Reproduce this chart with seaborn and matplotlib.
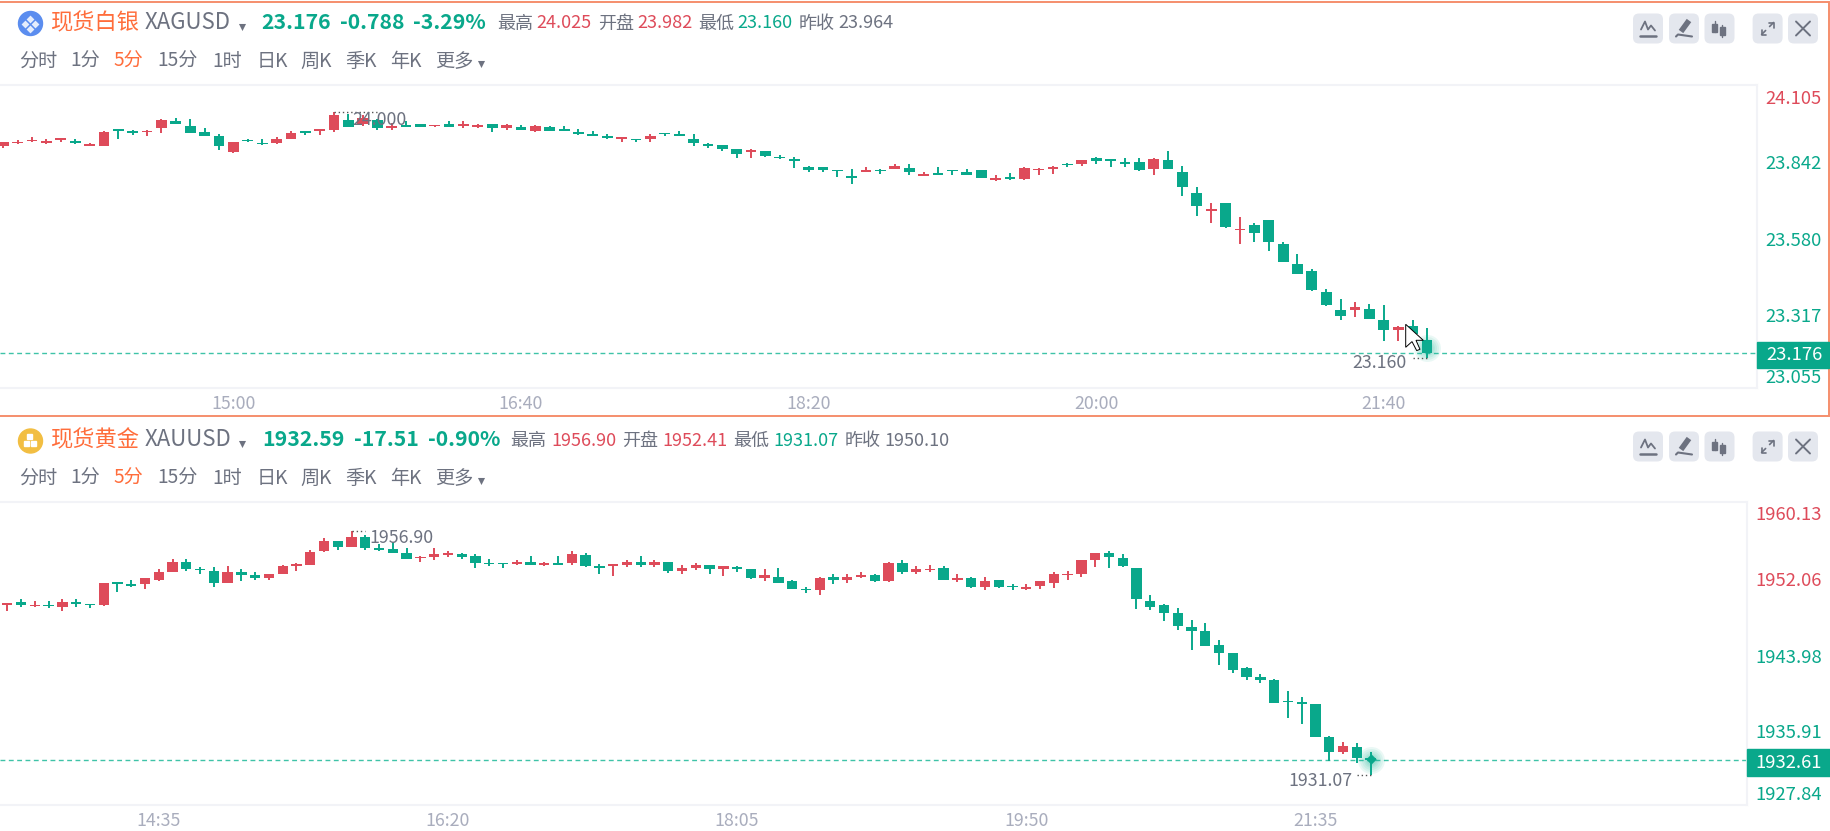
import numpy as np
import pandas as pd
import matplotlib
matplotlib.use("Agg")
import matplotlib.pyplot as plt
from matplotlib.patches import Rectangle, FancyBboxPatch, Circle, Polygon
import seaborn as sns

# XAGUSD 5 minute candles
silver_open = [23.895, 23.903, 23.910, 23.903, 23.915, 23.912, 23.895, 23.894, 23.949, 23.945,
               23.941, 23.957, 23.980, 23.964, 23.943, 23.927, 23.872, 23.915, 23.902, 23.903,
               23.919, 23.943, 23.946, 23.949, 23.984, 23.969, 23.984, 23.956, 23.964, 23.969,
               23.962, 23.970, 23.964, 23.961, 23.969, 23.956, 23.960, 23.945, 23.958, 23.949,
               23.943, 23.934, 23.928, 23.919, 23.917, 23.918, 23.938, 23.933, 23.918, 23.902,
               23.897, 23.882, 23.874, 23.876, 23.855, 23.845, 23.820, 23.820, 23.810, 23.788,
               23.805, 23.810, 23.815, 23.819, 23.790, 23.797, 23.810, 23.804, 23.810, 23.777,
               23.788, 23.778, 23.810, 23.815, 23.831, 23.830, 23.851, 23.850, 23.840, 23.840,
               23.815, 23.845, 23.804, 23.731, 23.670, 23.695, 23.602, 23.621, 23.638, 23.555,
               23.486, 23.461, 23.388, 23.326, 23.327, 23.331, 23.290, 23.255, 23.270, 23.222]
silver_high = [23.907, 23.915, 23.924, 23.919, 23.919, 23.919, 23.903, 23.946, 23.949, 23.950,
               23.950, 23.986, 23.990, 23.986, 23.955, 23.935, 23.907, 23.919, 23.918, 23.924,
               23.946, 23.945, 23.949, 24.010, 24.003, 24.001, 23.987, 23.972, 23.982, 23.969,
               23.964, 23.982, 23.982, 23.971, 23.970, 23.969, 23.967, 23.967, 23.964, 23.964,
               23.954, 23.945, 23.934, 23.924, 23.918, 23.934, 23.939, 23.945, 23.934, 23.903,
               23.897, 23.882, 23.882, 23.876, 23.863, 23.855, 23.825, 23.820, 23.810, 23.814,
               23.820, 23.814, 23.830, 23.830, 23.804, 23.820, 23.810, 23.814, 23.810, 23.793,
               23.799, 23.820, 23.819, 23.825, 23.836, 23.845, 23.856, 23.850, 23.851, 23.851,
               23.851, 23.877, 23.825, 23.752, 23.695, 23.696, 23.648, 23.626, 23.638, 23.560,
               23.519, 23.467, 23.399, 23.363, 23.353, 23.347, 23.342, 23.270, 23.290, 23.264]
silver_low = [23.888, 23.902, 23.909, 23.902, 23.909, 23.902, 23.894, 23.893, 23.918, 23.932,
              23.930, 23.939, 23.970, 23.939, 23.929, 23.881, 23.871, 23.909, 23.897, 23.902,
              23.918, 23.932, 23.932, 23.943, 23.960, 23.964, 23.949, 23.950, 23.960, 23.960,
              23.961, 23.960, 23.955, 23.955, 23.943, 23.950, 23.949, 23.943, 23.945, 23.945,
              23.933, 23.928, 23.918, 23.909, 23.909, 23.909, 23.928, 23.928, 23.893, 23.888,
              23.878, 23.851, 23.851, 23.856, 23.850, 23.819, 23.804, 23.804, 23.788, 23.762,
              23.804, 23.798, 23.814, 23.793, 23.789, 23.793, 23.793, 23.793, 23.783, 23.774,
              23.777, 23.777, 23.793, 23.798, 23.821, 23.825, 23.830, 23.820, 23.820, 23.808,
              23.793, 23.814, 23.722, 23.653, 23.628, 23.611, 23.555, 23.560, 23.529, 23.492,
              23.451, 23.393, 23.341, 23.290, 23.301, 23.295, 23.218, 23.218, 23.243, 23.160]
silver_close = [23.907, 23.908, 23.913, 23.912, 23.918, 23.904, 23.897, 23.943, 23.946, 23.940,
                23.945, 23.985, 23.971, 23.940, 23.930, 23.895, 23.907, 23.910, 23.900, 23.918,
                23.939, 23.940, 23.948, 24.001, 23.961, 23.990, 23.955, 23.964, 23.961, 23.961,
                23.964, 23.961, 23.970, 23.967, 23.955, 23.965, 23.950, 23.963, 23.946, 23.946,
                23.934, 23.930, 23.923, 23.923, 23.913, 23.928, 23.934, 23.930, 23.904, 23.893,
                23.882, 23.867, 23.878, 23.860, 23.851, 23.842, 23.810, 23.810, 23.806, 23.784,
                23.808, 23.806, 23.825, 23.805, 23.798, 23.795, 23.806, 23.795, 23.784, 23.782,
                23.778, 23.819, 23.814, 23.820, 23.827, 23.845, 23.841, 23.842, 23.830, 23.810,
                23.850, 23.815, 23.753, 23.686, 23.675, 23.612, 23.606, 23.591, 23.561, 23.493,
                23.452, 23.394, 23.342, 23.306, 23.336, 23.296, 23.255, 23.268, 23.244, 23.176]

# XAUUSD 5 minute candles
gold_open = [1949.16, 1949.48, 1949.02, 1949.12, 1948.98, 1949.44, 1949.23, 1949.12, 1951.50, 1951.32,
             1951.40, 1951.86, 1952.67, 1953.74, 1952.96, 1952.78, 1951.54, 1952.64, 1952.32, 1952.00,
             1952.50, 1953.31, 1953.42, 1954.87, 1955.98, 1955.37, 1956.40, 1955.16, 1955.16, 1954.70,
             1954.13, 1954.24, 1954.52, 1954.56, 1954.38, 1953.60, 1953.59, 1953.56, 1953.73, 1953.45,
             1953.56, 1953.59, 1954.52, 1953.24, 1953.31, 1953.41, 1953.73, 1953.41, 1953.73, 1952.78,
             1953.09, 1953.41, 1952.95, 1953.09, 1952.95, 1951.99, 1952.14, 1951.67, 1950.86, 1950.72,
             1952.14, 1951.82, 1952.14, 1952.31, 1951.67, 1953.59, 1952.63, 1952.85, 1953.09, 1951.85,
             1951.99, 1951.04, 1951.82, 1951.22, 1950.90, 1951.22, 1951.50, 1952.35, 1952.46, 1953.91,
             1954.66, 1954.20, 1953.10, 1949.58, 1949.12, 1948.30, 1946.85, 1946.39, 1944.93, 1944.01,
             1942.41, 1941.45, 1941.13, 1938.89, 1938.72, 1938.57, 1935.06, 1933.46, 1934.06, 1932.82]
gold_high = [1949.41, 1949.76, 1949.58, 1949.55, 1949.76, 1949.76, 1949.23, 1951.50, 1951.64, 1951.82,
             1952.00, 1952.96, 1954.06, 1954.06, 1953.24, 1953.24, 1953.28, 1952.96, 1952.64, 1952.50,
             1953.42, 1953.60, 1955.02, 1956.30, 1955.98, 1957.00, 1956.62, 1955.62, 1955.90, 1955.19,
             1954.38, 1955.19, 1954.87, 1954.70, 1954.56, 1954.06, 1953.66, 1953.91, 1954.37, 1953.70,
             1954.37, 1954.87, 1954.69, 1953.56, 1953.41, 1953.91, 1954.37, 1953.91, 1953.73, 1953.41,
             1953.59, 1953.41, 1953.27, 1953.27, 1952.95, 1952.95, 1953.09, 1951.82, 1951.04, 1952.14,
             1952.46, 1952.46, 1952.63, 1952.46, 1953.73, 1953.91, 1953.27, 1953.41, 1953.27, 1952.46,
             1952.14, 1952.10, 1951.82, 1951.43, 1951.39, 1951.68, 1952.64, 1952.81, 1953.91, 1954.66,
             1954.91, 1954.55, 1953.10, 1950.22, 1949.26, 1948.80, 1947.52, 1947.20, 1945.43, 1944.01,
             1942.59, 1941.77, 1941.27, 1939.99, 1939.36, 1938.57, 1935.20, 1934.56, 1934.42, 1933.46]
gold_low = [1948.48, 1948.98, 1948.98, 1948.80, 1948.48, 1948.98, 1948.80, 1949.09, 1950.58, 1951.04,
            1950.90, 1951.68, 1952.64, 1952.82, 1952.50, 1951.04, 1951.50, 1951.68, 1951.86, 1951.86,
            1952.46, 1952.82, 1953.38, 1954.84, 1955.02, 1955.34, 1955.02, 1954.87, 1954.70, 1954.06,
            1953.77, 1953.92, 1954.24, 1954.09, 1953.10, 1953.28, 1953.13, 1953.41, 1953.38, 1953.27,
            1953.41, 1953.41, 1953.24, 1952.46, 1952.28, 1953.24, 1953.24, 1953.24, 1952.60, 1952.46,
            1952.92, 1952.46, 1952.28, 1952.63, 1951.96, 1951.67, 1951.46, 1950.86, 1950.40, 1950.25,
            1951.35, 1951.50, 1951.99, 1951.64, 1951.64, 1952.46, 1952.46, 1952.63, 1951.78, 1951.64,
            1951.00, 1950.72, 1951.00, 1950.72, 1950.72, 1950.86, 1951.00, 1951.82, 1952.14, 1953.24,
            1953.10, 1953.24, 1948.76, 1948.62, 1947.49, 1946.53, 1944.33, 1944.79, 1942.73, 1941.91,
            1941.13, 1940.81, 1938.72, 1937.15, 1936.51, 1935.06, 1932.54, 1933.32, 1932.36, 1931.07]
gold_close = [1949.26, 1949.16, 1949.12, 1949.02, 1949.44, 1949.30, 1949.12, 1951.50, 1951.40, 1951.22,
              1952.00, 1952.64, 1953.74, 1952.96, 1952.85, 1951.54, 1952.64, 1952.32, 1952.00, 1952.46,
              1953.28, 1953.42, 1954.84, 1955.98, 1955.37, 1956.44, 1955.19, 1955.05, 1954.73, 1954.09,
              1954.24, 1954.56, 1954.70, 1954.27, 1953.60, 1953.49, 1953.49, 1953.73, 1953.41, 1953.59,
              1953.45, 1954.55, 1953.27, 1953.13, 1953.41, 1953.73, 1953.41, 1953.73, 1952.78, 1953.09,
              1953.41, 1952.95, 1953.27, 1952.99, 1951.99, 1952.31, 1951.50, 1950.89, 1950.75, 1951.99,
              1951.82, 1952.14, 1952.31, 1951.67, 1953.59, 1952.63, 1952.95, 1952.95, 1951.82, 1951.99,
              1951.04, 1951.68, 1951.04, 1951.07, 1951.04, 1951.68, 1952.46, 1952.49, 1953.91, 1954.66,
              1954.27, 1953.27, 1949.76, 1948.94, 1948.30, 1946.88, 1946.42, 1944.82, 1944.01, 1942.27,
              1941.49, 1941.13, 1938.75, 1938.79, 1938.61, 1935.09, 1933.50, 1934.10, 1932.86, 1932.61]

silver_time_pos = [16, 36, 56, 76, 96]
silver_time_labels = ['15:00', '16:40', '18:20', '20:00', '21:40']
gold_time_pos = [11, 32, 53, 74, 95]
gold_time_labels = ['14:35', '16:20', '18:05', '19:50', '21:35']

silver_levels = [24.105, 23.842, 23.580, 23.317, 23.055]
silver_level_labels = ['24.105', '23.842', '23.580', '23.317', '23.055']
gold_levels = [1960.13, 1952.06, 1943.98, 1935.91, 1927.84]
gold_level_labels = ['1960.13', '1952.06', '1943.98', '1935.91', '1927.84']
silver_last = 23.176
gold_last = 1932.61

W, H = 1831, 831
GREEN = '#09A88B'
RED = '#DE4B5A'
ORANGE = '#FF6D3B'
GRAY = '#6D7280'
TICK_GRAY = '#A9ADBD'
BAND = '#F2F3F7'
BUTTON = '#E4E7EE'

sns.set_theme(style='white')
plt.rcParams['font.family'] = ['Noto Sans CJK SC', 'DejaVu Sans']

fig = plt.figure(figsize=(W / 100, H / 100), dpi=100, facecolor='white')


def draw_candles(box, step, first_x, opens, highs, lows, closes, levels, level_labels,
                 level_offsets, red_levels, times, time_labels, last_price):
    left, top, right, bottom = box
    ax = fig.add_axes([left / W, 1 - bottom / H, (right - left) / W, (bottom - top) / H])
    per_px = (levels[0] - levels[-1]) / (bottom - top)
    df = pd.DataFrame({'idx': range(len(opens)), 'open': opens, 'high': highs,
                       'low': lows, 'close': closes})
    # a doji still shows as a bar about one pixel tall
    df['body'] = (df['close'] - df['open']).abs().clip(lower=per_px * 1.5)
    df['base'] = df[['open', 'close']].min(axis=1)
    up = df[df['close'] >= df['open']]
    down = df[df['close'] < df['open']]
    for part, col in ((up, RED), (down, GREEN)):
        ax.vlines(part['idx'], part['low'], part['high'], color=col, linewidth=1.4, zorder=2)
        sns.barplot(data=part, x='idx', y='body', native_scale=True, color=col, saturation=1,
                    errorbar=None, width=0.75, bottom=part['base'].values, linewidth=0,
                    zorder=3, ax=ax)
    ax.set_xlim(-(first_x - left) / step, (right - first_x) / step)
    ax.set_ylim(levels[-1], levels[0])
    ax.set_xlabel('')
    ax.set_ylabel('')
    ax.set_yticks([])
    ax.set_xticks(times, time_labels)
    ax.tick_params(axis='x', length=0, pad=5, labelsize=12.8, labelcolor=TICK_GRAY)
    ax.spines['left'].set_visible(False)
    for name in ('top', 'bottom', 'right'):
        ax.spines[name].set_color(BAND)
        ax.spines[name].set_linewidth(1.5)
    ax.axhline(last_price, color='#3FC3A8', linewidth=1, dashes=(3.5, 2.5), zorder=1)
    for value, label, off, is_red in zip(levels, level_labels, level_offsets, red_levels):
        overlay_y = top + (levels[0] - value) * (bottom - top) / (levels[0] - levels[-1]) + off
        overlay.text(1822, overlay_y, label, ha='right', va='center', fontsize=13.3,
                     color=RED if is_red else GREEN)
    return ax


def header(y1, y2, name, code, icon_color, quote, stats):
    overlay.add_patch(Circle((30.5, y1), 12, color=icon_color, zorder=2))
    overlay.text(50, y1 - 1, name, color=ORANGE, fontsize=16, va='center')
    overlay.text(145, y1 - 1, code, color=GRAY, fontsize=16, va='center')
    overlay.scatter([242], [y1 + 3], marker='v', s=26, color=GRAY, linewidths=0)
    for x, s in quote:
        overlay.text(x, y1 - 1, s, color=GREEN, fontsize=15.3, va='center', weight='bold')
    for x, s, col in stats:
        overlay.text(x, y1, s, color=col, fontsize=13, va='center')
    periods = [(19.4, '分时'), (70.5, '1分'), (113.3, '5分'), (157.4, '15分'), (212, '1时'),
               (256.6, '日K'), (300, '周K'), (345, '季K'), (390.5, '年K'), (435, '更多')]
    for x, s in periods:
        overlay.text(x, y2, s, color=ORANGE if s == '5分' else GRAY, fontsize=13.8, va='center')
    overlay.scatter([481], [y2 + 2], marker='v', s=26, color=GRAY, linewidths=0)


def buttons(y0):
    for x0 in (1633, 1669, 1704.5, 1752.6, 1788):
        overlay.add_patch(FancyBboxPatch((x0 + 4, y0 + 4), 22, 22, boxstyle='round,pad=4,rounding_size=6',
                                         facecolor=BUTTON, edgecolor='none'))
    cy = y0 + 15
    cx = 1648
    overlay.plot([cx - 7, cx - 3, cx, cx + 3, cx + 7], [cy + 1, cy - 7, cy + 1, cy - 3, cy + 2],
                 color=GRAY, lw=1.3)
    overlay.plot([cx - 8, cx + 8], [cy + 7, cy + 7], color=GRAY, lw=1.8)
    cx = 1684
    overlay.plot([cx - 3, cx + 5], [cy + 3, cy - 8], color=GRAY, lw=4, solid_capstyle='butt')
    overlay.plot([cx - 8, cx - 6, cx + 8], [cy + 8, cy + 6, cy + 8], color=GRAY, lw=1.5)
    cx = 1719.5
    overlay.plot([cx - 4, cx - 4], [cy - 8, cy + 3], color=GRAY, lw=1)
    overlay.plot([cx + 3, cx + 3], [cy - 4, cy + 8], color=GRAY, lw=1)
    overlay.add_patch(Rectangle((cx - 7, cy - 5), 5, 8, color=GRAY))
    overlay.add_patch(Rectangle((cx + 1, cy - 2), 5, 8, color=GRAY))
    cx = 1767.6
    overlay.plot([cx - 6, cx - 2], [cy + 6, cy + 2], color=GRAY, lw=1.2)
    overlay.plot([cx + 2, cx + 6], [cy - 2, cy - 6], color=GRAY, lw=1.2)
    overlay.plot([cx - 6, cx - 6, cx - 2], [cy + 1, cy + 6, cy + 6], color=GRAY, lw=1.2)
    overlay.plot([cx + 1, cx + 6, cx + 6], [cy - 6, cy - 6, cy - 1], color=GRAY, lw=1.2)
    cx = 1803
    overlay.plot([cx - 7, cx + 7], [cy - 7, cy + 7], color=GRAY, lw=1.4)
    overlay.plot([cx - 7, cx + 7], [cy + 7, cy - 7], color=GRAY, lw=1.4)


def glow(ax, x, y, strength=0.09):
    for d in (27, 23, 19, 15, 12, 9):
        ax.scatter([x], [y], s=(d * 0.72) ** 2, color='#1BB79B', alpha=strength, linewidths=0, zorder=4)


overlay = fig.add_axes([0, 0, 1, 1], zorder=5)
overlay.set_xlim(0, W)
overlay.set_ylim(H, 0)
overlay.axis('off')

silver_ax = draw_candles((0, 85, 1757, 388.2), 14.38, 3.3, silver_open, silver_high, silver_low,
                         silver_close, silver_levels, silver_level_labels, [14, 3, 4, 4, -10],
                         [True, False, False, False, False], silver_time_pos, silver_time_labels,
                         silver_last)
gold_ax = draw_candles((0, 502, 1747, 805), 13.77, 7.3, gold_open, gold_high, gold_low, gold_close,
                       gold_levels, gold_level_labels, [13, 3.5, 4, 4, -10],
                       [True, True, False, False, False], gold_time_pos, gold_time_labels, gold_last)

# last candle glow
glow(silver_ax, 99, 23.194)
glow(gold_ax, 99, 1932.61)
gold_ax.scatter([99], [1932.7], marker='D', s=28, color=GREEN, linewidths=0, zorder=5)

# high / low marks
silver_ax.plot([23, 26], [24.010, 24.010], color='#555', ls=(0, (1, 2)), lw=1, zorder=5)
silver_ax.text(24.3, 23.984, '24.000', color=GRAY, fontsize=12.8, va='center', zorder=6)
silver_ax.plot([98, 99], [23.160, 23.160], color='#555', ls=(0, (1, 2)), lw=1, zorder=5)
silver_ax.text(97.6, 23.143, '23.160', color=GRAY, fontsize=12.8, va='center', ha='right', zorder=6)
gold_ax.plot([25, 26], [1957.0, 1957.0], color='#555', ls=(0, (1, 2)), lw=1, zorder=5)
gold_ax.text(26.3, 1956.3, '1956.90', color=GRAY, fontsize=12.8, va='center', zorder=6)
gold_ax.plot([98, 99], [1931.07, 1931.07], color='#555', ls=(0, (1, 2)), lw=1, zorder=5)
gold_ax.text(97.7, 1930.45, '1931.07', color=GRAY, fontsize=12.8, va='center', ha='right', zorder=6)

# panel frame around the selected chart
overlay.add_patch(Rectangle((-2, 1.5), W, 414, fill=False, edgecolor='#F58E6D', linewidth=1.4))

header(23.5, 61.5, '现货白银', 'XAGUSD', '#5B8DEF',
       [(261.5, '23.176'), (340, '-0.788'), (413.5, '-3.29%')],
       [(497, '最高', GRAY), (536, '24.025', RED), (598, '开盘', GRAY), (637, '23.982', RED),
        (698, '最低', GRAY), (737.5, '23.160', GREEN), (799, '昨收', GRAY), (838.5, '23.964', GRAY)])
header(441, 478.5, '现货黄金', 'XAUUSD', '#F2BE42',
       [(262.5, '1932.59'), (354, '-17.51'), (428, '-0.90%')],
       [(510.5, '最高', GRAY), (551, '1956.90', RED), (622, '开盘', GRAY), (662, '1952.41', RED),
        (733, '最低', GRAY), (773.5, '1931.07', GREEN), (844.5, '昨收', GRAY), (884, '1950.10', GRAY)])

# symbol glyphs
overlay.scatter([25, 30, 35, 30], [23.5, 18.5, 23.5, 28.5], marker='D', s=16, color='white',
                alpha=0.85, linewidths=0, zorder=3)
for x, y in ((26.5, 443), (33.5, 443), (30, 436.5)):
    overlay.add_patch(Rectangle((x - 2.5, y - 2.5), 5, 5, color='white', zorder=3))

buttons(13.5)
buttons(431.5)

# last price tags
overlay.add_patch(Rectangle((1757, 341.6), 72, 26.8, color=GREEN, zorder=3))
overlay.text(1794, 355, '23.176', color='white', fontsize=13.3, ha='center', va='center', zorder=4)
overlay.add_patch(Rectangle((1747, 749), 84, 26.7, color=GREEN, zorder=3))
overlay.text(1789, 762.5, '1932.61', color='white', fontsize=13.3, ha='center', va='center', zorder=4)

# mouse pointer
tip_x, tip_y = 1405.7, 324.3
pointer = [(0, 0), (0, 23), (6.3, 17.3), (11, 26.3), (14.3, 25), (10.3, 16), (17.6, 16)]
overlay.add_patch(Polygon([(tip_x + a, tip_y + b) for a, b in pointer], closed=True,
                          facecolor='white', edgecolor='black', linewidth=0.7, zorder=6))

fig.savefig('out.png', dpi=100)
